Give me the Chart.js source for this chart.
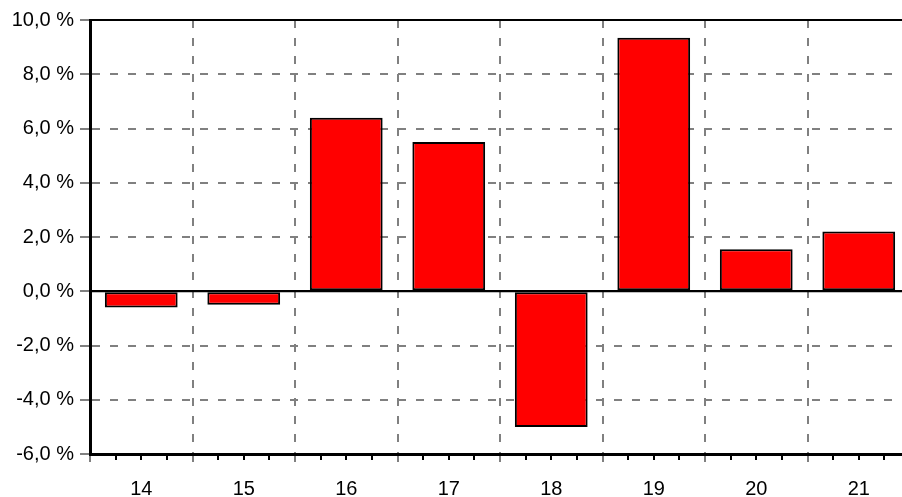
<!DOCTYPE html>
<html>
<head>
<meta charset="utf-8">
<script src="https://cdn.jsdelivr.net/npm/chart.js@4/dist/chart.umd.min.js"></script>
<style>
  html, body { margin: 0; padding: 0; background: #fff; overflow: hidden; }
  #wrap { width: 910px; height: 497px; }
</style>
</head>
<body>
<div id="wrap"><canvas id="chart"></canvas></div>
<script>
// Daten
const years = ['14', '15', '16', '17', '18', '19', '20', '21'];
const changes = [-0.6, -0.5, 6.4, 5.5, -5.0, 9.35, 1.55, 2.2];
const yMin = -6, yMax = 10, yStep = 2;

const font = { family: "'Liberation Sans', Arial, sans-serif", size: 20 };

// Nulllinie über den Balken und kleine Striche auf der x-Achse
const extras = {
  id: 'extras',
  afterDatasetsDraw(chart) {
    const { ctx, chartArea } = chart;
    const y0 = chart.scales.y.getPixelForValue(0);
    ctx.save();
    ctx.strokeStyle = '#000';
    ctx.lineWidth = 2;
    ctx.beginPath();
    ctx.moveTo(chartArea.left, y0);
    ctx.lineTo(chartArea.right, y0);
    ctx.stroke();
    ctx.restore();
  },
  afterDraw(chart) {
    const x = chart.scales.x;
    const ctx = chart.ctx;
    const yb = chart.chartArea.bottom;
    ctx.save();
    ctx.strokeStyle = '#000';
    ctx.lineWidth = 2;
    years.forEach((_, i) => {
      [-0.25, 0, 0.25].forEach(d => {
        const px = Math.round(x.getPixelForValue(i + d));
        ctx.beginPath();
        ctx.moveTo(px, yb);
        ctx.lineTo(px, yb + 6);
        ctx.stroke();
      });
    });
    ctx.restore();
  }
};

new Chart(document.getElementById('chart'), {
  type: 'bar',
  data: {
    labels: years,
    datasets: [{
      data: changes,
      backgroundColor: '#ff0000',
      borderColor: '#000',
      borderWidth: 2,
      borderSkipped: false,
      barPercentage: 0.71,
      categoryPercentage: 1
    }]
  },
  options: {
    responsive: true,
    maintainAspectRatio: false,
    animation: false,
    layout: { padding: { top: 20, right: 0, left: 0, bottom: 0 } },
    plugins: { legend: { display: false }, tooltip: { enabled: false } },
    scales: {
      x: {
        offset: true,
        grid: {
          offset: true,
          color: '#808080',
          lineWidth: 2,
          tickLength: 8,
          tickColor: '#808080',
          tickWidth: 2
        },
        border: { color: '#000', width: 3, dash: [8, 10] },
        ticks: { color: '#000', font: font, padding: 15, maxRotation: 0 },
        afterFit: s => { s.height = 43; }
      },
      y: {
        min: yMin,
        max: yMax,
        grid: {
          color: c => (c.tick && (c.tick.value === 0 || c.tick.value === yMax)) ? '#000' : (c.tick && c.tick.value === yMin ? 'rgba(0,0,0,0)' : '#808080'),
          lineWidth: 2,
          tickLength: 10,
          tickColor: '#808080',
          tickWidth: 2
        },
        border: {
          color: '#000',
          width: 3,
          dash: c => (c.tick && (c.tick.value === 0 || c.tick.value === yMax)) ? [] : [8, 10]
        },
        ticks: {
          stepSize: yStep,
          color: '#000',
          font: font,
          padding: 6,
          callback: v => v.toFixed(1).replace('.', ',') + ' %'
        },
        afterFit: s => { s.width = 90; }
      }
    }
  },
  plugins: [extras]
});
</script>
</body>
</html>
